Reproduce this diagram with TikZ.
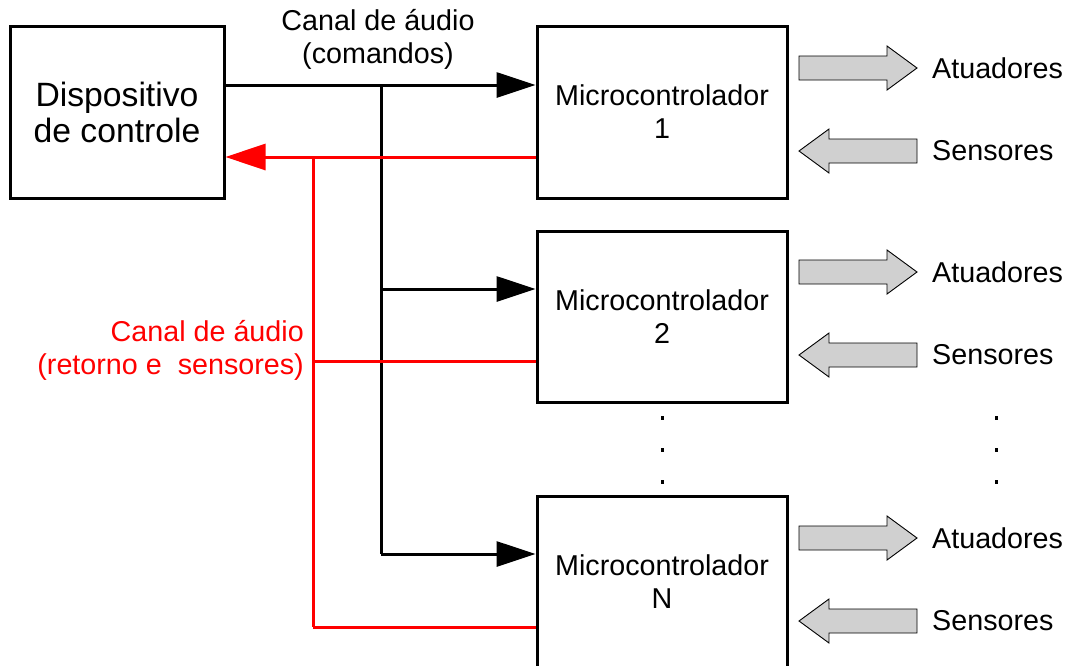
\documentclass[tikz,border=0pt]{standalone}
\usepackage{fontspec}
\setmainfont{Liberation Sans}
\usetikzlibrary{arrows.meta}
\definecolor{arrowfill}{RGB}{208,208,208}
\tikzset{
  txt/.style={font=\fontsize{28.7}{33}\selectfont, inner sep=0pt},
  box/.style={draw, line width=3pt, minimum width=250pt, minimum height=172pt,
              inner sep=0pt, align=center, font=\fontsize{28.7}{33}\selectfont},
  bigbox/.style={box, minimum width=214pt, font=\fontsize{33.7}{36}\selectfont},
  cmd/.style={line width=3pt},
  cmdarrow/.style={cmd, -{Triangle[length=39pt,width=25pt]}},
  ret/.style={red, line width=3pt},
  retarrow/.style={ret, -{Triangle[length=40pt,width=26pt]}},
  blockarr/.style={draw, line width=0.9pt, fill=arrowfill, line join=miter},
  dot/.style={fill, minimum width=3pt, minimum height=4pt, inner sep=0pt},
  rarrow/.pic={\draw[blockarr] (0,-12) -- (88,-12) -- (88,-22) -- (118,0)
               -- (88,22) -- (88,12) -- (0,12) -- cycle;},
}
\begin{document}
\begin{tikzpicture}[x=1pt,y=-1pt]
\useasboundingbox (0,0) rectangle (1069,665);
\clip (0,0) rectangle (1069,665);

% blocks
\node[bigbox] (disp) at (117,112) {Dispositivo\\de controle};
\node[box] (m1) at (662,112) {Microcontrolador\\1};
\node[box, minimum height=171pt] (m2) at (662,316.5) {Microcontrolador\\2};
\node[box] (mN) at (662,582) {Microcontrolador\\N};

% junctions of the command bus and the return bus
\coordinate (c1) at (381,85);
\coordinate (c2) at (381,289);
\coordinate (cN) at (381,554);
\coordinate (r1) at (313,157);
\coordinate (r2) at (313,361);
\coordinate (rN) at (313,627);

% command channel (black)
\draw[cmd] (disp.east |- c1) -- (c1);
\draw[cmdarrow] (c1) -- (m1.west |- c1);
\draw[cmd] (c1) -- (cN);
\draw[cmdarrow] (c2) -- (m2.west |- c2);
\draw[cmdarrow] (cN) -- (mN.west |- cN);

% return channel (red)
\draw[ret] (m1.west |- r1) -- (r1);
\draw[retarrow] (r1) -- (disp.east |- r1);
\draw[ret] (r1) -- (rN);
\draw[ret] (m2.west |- r2) -- (r2);
\draw[ret] (mN.west |- rN) -- (rN);

% labels of the channels
\node[txt, align=center] (lcmd) at (378,39) {Canal de áudio\\(comandos)};
\node[txt, align=right, text=red, anchor=east] (lret) at (304,350)
  {Canal de áudio\\(retorno e\ \ sensores)};

% actuators and sensors
\foreach \y/\n in {68/1, 272/2, 538/N} {
  \pic at (799,\y) {rarrow};
  \node[txt, anchor=west] (at\n) at (932,\y) {Atuadores};
}
\foreach \y/\n in {151/1, 355/2, 621/N} {
  \pic[xscale=-1] at (917,\y) {rarrow};
  \node[txt, anchor=west] (se\n) at (932,\y) {Sensores};
}

% ellipsis dots
\foreach \y [count=\i] in {418,450,482} {
  \node[dot] (dm\i) at (662,\y) {};
  \node[dot] (dr\i) at (996,\y) {};
}
\end{tikzpicture}
\end{document}
